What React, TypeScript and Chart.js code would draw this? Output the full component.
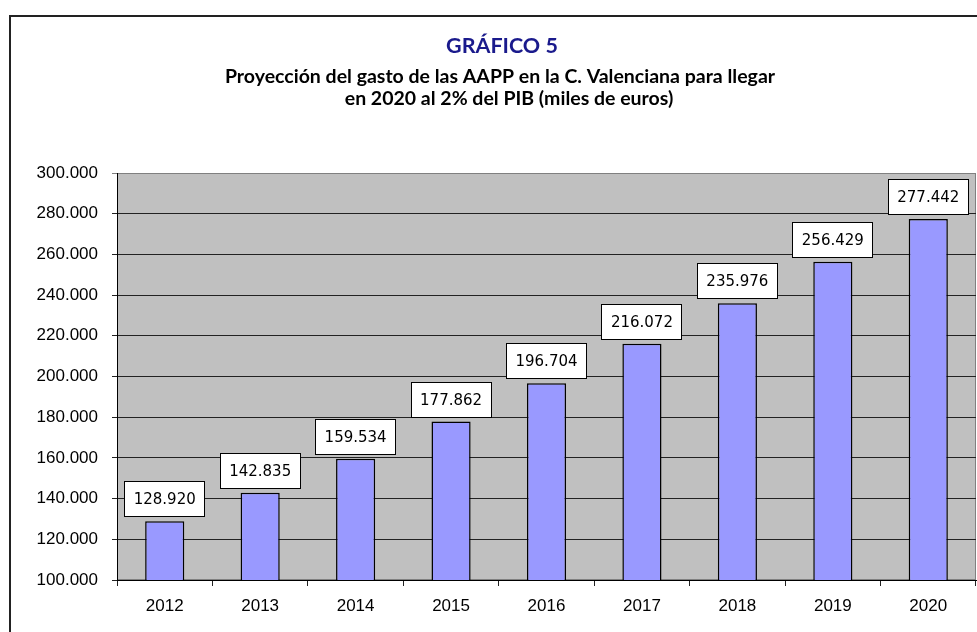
import React, { useEffect, useRef } from "react";
import { Chart, registerables } from "chart.js";

Chart.register(...registerables);

const categories = ["2012", "2013", "2014", "2015", "2016", "2017", "2018", "2019", "2020"];
const values = [128920, 142835, 159534, 177862, 196704, 216072, 235976, 256429, 277442];
const titleText = "GRÁFICO 5";
const subtitleLines = [
  "Proyección del gasto de las AAPP en la C. Valenciana para llegar",
  "en 2020 al 2% del PIB (miles de euros)",
];
const yMin = 100000;
const yMax = 300000;
const yStep = 20000;

const fmt = (v: number) => Math.round(v).toString().replace(/\B(?=(\d{3})+(?!\d))/g, ".");

const decorPlugin = {
  id: "decor",
  beforeDraw(chart: any) {
    const { ctx, chartArea } = chart;
    ctx.save();
    ctx.fillStyle = "#ffffff";
    ctx.fillRect(0, 0, chart.width, chart.height);
    // frame
    ctx.strokeStyle = "#222";
    ctx.lineWidth = 2;
    ctx.beginPath();
    ctx.moveTo(10, chart.height + 2);
    ctx.lineTo(10, 16);
    ctx.lineTo(chart.width + 2, 16);
    ctx.stroke();
    // plot background
    ctx.fillStyle = "#C0C0C0";
    ctx.fillRect(chartArea.left, chartArea.top, chartArea.right - chartArea.left, chartArea.bottom - chartArea.top);
    ctx.strokeStyle = "#808080";
    ctx.lineWidth = 1;
    ctx.strokeRect(chartArea.left + 0.5, chartArea.top + 0.5, chartArea.right - chartArea.left - 1, chartArea.bottom - chartArea.top - 1);
    // titles
    ctx.textAlign = "center";
    ctx.textBaseline = "alphabetic";
    ctx.fillStyle = "#1a1a8c";
    ctx.font = "bold 21.5px Lato, 'Open Sans', sans-serif";
    ctx.fillText(titleText, 502, 53);
    ctx.fillStyle = "#000";
    ctx.font = "bold 19.5px Lato, 'Open Sans', sans-serif";
    ctx.fillText(subtitleLines[0], 500, 83);
    ctx.fillText(subtitleLines[1], 509, 105);
    ctx.restore();
  },
  afterDatasetsDraw(chart: any) {
    const { ctx } = chart;
    const meta = chart.getDatasetMeta(0);
    ctx.save();
    ctx.font = "15px 'DejaVu Sans', sans-serif";
    ctx.textAlign = "center";
    ctx.textBaseline = "middle";
    meta.data.forEach((bar: any, i: number) => {
      const txt = fmt(values[i]);
      const w = Math.round(ctx.measureText(txt).width + 19);
      const h = 36;
      const x = Math.round(bar.x - w / 2);
      const y = Math.round(bar.y - 4 - h);
      ctx.fillStyle = "#fff";
      ctx.fillRect(x, y, w, h);
      ctx.strokeStyle = "#000";
      ctx.lineWidth = 1;
      ctx.strokeRect(x + 0.5, y + 0.5, w - 1, h - 1);
      ctx.fillStyle = "#000";
      ctx.fillText(txt, bar.x, y + h / 2 + 1);
    });
    ctx.restore();
  },
};

export default function App() {
  const ref = useRef<HTMLCanvasElement | null>(null);
  useEffect(() => {
    document.body.style.margin = "0";
    if (!ref.current) return;
    const chart = new Chart(ref.current, {
      type: "bar",
      data: {
        labels: categories,
        datasets: [
          {
            data: values,
            backgroundColor: "#9999FF",
            borderColor: "#000",
            borderWidth: 1.5,
            barPercentage: 0.41,
            categoryPercentage: 1,
          },
        ],
      },
      options: {
        animation: false,
        responsive: false,
        maintainAspectRatio: false,
        layout: { padding: { top: 173, right: 1, left: 0, bottom: 0 } },
        plugins: {
          legend: { display: false },
          title: { display: false },
          tooltip: { enabled: false },
        },
        scales: {
          x: {
            offset: true,
            grid: {
              offset: true,
              drawOnChartArea: false,
              drawTicks: true,
              tickLength: 6,
              color: "#222",
            },
            border: { color: "#000", width: 1 },
            ticks: {
              color: "#000",
              font: { family: "'Liberation Sans', Arial, sans-serif", size: 17 },
              padding: 10,
            },
            afterFit: (s: any) => {
              s.height = 52;
            },
          },
          y: {
            min: yMin,
            max: yMax,
            grid: {
              color: (c: any) => (c.tick && c.tick.value === yMax ? "#808080" : "#222"),
              tickLength: 5,
              lineWidth: 1,
            },
            border: { color: "#000", width: 1 },
            ticks: {
              stepSize: yStep,
              color: "#000",
              padding: 14,
              font: { family: "'Liberation Sans', Arial, sans-serif", size: 17 },
              callback: (v: any) => fmt(Number(v)),
            },
            afterFit: (s: any) => {
              s.width = 117;
            },
          },
        },
      },
      plugins: [decorPlugin],
    });
    return () => chart.destroy();
  }, []);
  return (
    <div style={{ position: "fixed", left: 0, top: 0, width: 977, height: 632 }}>
      <canvas ref={ref} width={977} height={632} style={{ width: 977, height: 632 }} />
    </div>
  );
}
